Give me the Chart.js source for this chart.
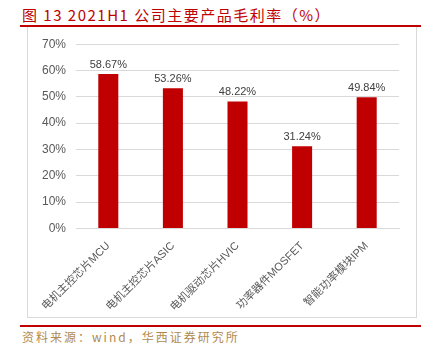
<!DOCTYPE html>
<html>
<head>
<meta charset="utf-8">
<script src="https://cdn.jsdelivr.net/npm/chart.js@4"></script>
<style>
  html, body { margin: 0; padding: 0; background: #fff; }
  body { width: 428px; height: 354px; position: relative; overflow: hidden; font-family: "Liberation Sans", "Noto Sans CJK SC", sans-serif; }
  #title { position: absolute; left: 22px; top: 4px; font-size: 15px; color: #c00000; letter-spacing: 1.5px; font-family: "Noto Sans CJK SC", sans-serif; }
  .redline { position: absolute; left: 20px; width: 401px; height: 2px; background: #c00000; }
  #box { position: absolute; left: 27px; top: 27px; width: 388px; height: 290px; border: 1px solid #d9d9d9; border-top: none; }
  #source { position: absolute; left: 22px; top: 328px; font-size: 12px; color: #b08a50; letter-spacing: 2px; font-family: "Noto Sans CJK SC", sans-serif; }
</style>
</head>
<body>
<div id="title">图 13 2021H1 公司主要产品毛利率（%）</div>
<div class="redline" style="top:25px"></div>
<div id="box"><canvas id="marginChart" width="388" height="290"></canvas></div>
<div class="redline" style="top:325px"></div>
<div id="source">资料来源：wind，华西证券研究所</div>
<script>
// categories and gross margin values (%)
const products = ['电机主控芯片MCU', '电机主控芯片ASIC', '电机驱动芯片HVIC', '功率器件MOSFET', '智能功率模块IPM'];
const margins = [58.67, 53.26, 48.22, 31.24, 49.84];
const yTicks = [0, 10, 20, 30, 40, 50, 60, 70];

const labelFont = '"Liberation Sans", "Noto Sans CJK SC", sans-serif';

// draws the value above each bar
const valueLabels = {
  id: 'valueLabels',
  afterDatasetsDraw(chart) {
    const ctx = chart.ctx;
    const meta = chart.getDatasetMeta(0);
    ctx.save();
    ctx.font = '11px ' + labelFont;
    ctx.fillStyle = '#404040';
    ctx.textAlign = 'center';
    ctx.textBaseline = 'bottom';
    meta.data.forEach((bar, i) => {
      ctx.fillText(margins[i].toFixed(2) + '%', bar.x, bar.y - 4);
    });
    ctx.restore();
  }
};

new Chart(document.getElementById('marginChart'), {
  type: 'bar',
  data: {
    labels: products,
    datasets: [{
      data: margins,
      backgroundColor: '#c00000',
      categoryPercentage: 0.62,
      barPercentage: 0.5
    }]
  },
  options: {
    responsive: false,
    animation: false,
    layout: { padding: { top: 17, right: 17, left: 0, bottom: 0 } },
    plugins: { legend: { display: false }, tooltip: { enabled: false } },
    scales: {
      x: {
        grid: { display: false },
        border: { color: '#d9d9d9' },
        ticks: {
          minRotation: 45, maxRotation: 45,
          color: '#595959',
          font: { size: 11, family: labelFont }
        }
      },
      y: {
        min: 0, max: 70,
        afterFit(scale) { scale.width = 48; },
        afterBuildTicks(scale) { scale.ticks = yTicks.map(v => ({ value: v })); },
        grid: { color: '#d9d9d9', drawTicks: false },
        border: { display: false },
        ticks: {
          padding: 10,
          color: '#595959',
          font: { size: 12, family: labelFont },
          callback: v => v + '%'
        }
      }
    }
  },
  plugins: [valueLabels]
});
</script>
</body>
</html>
